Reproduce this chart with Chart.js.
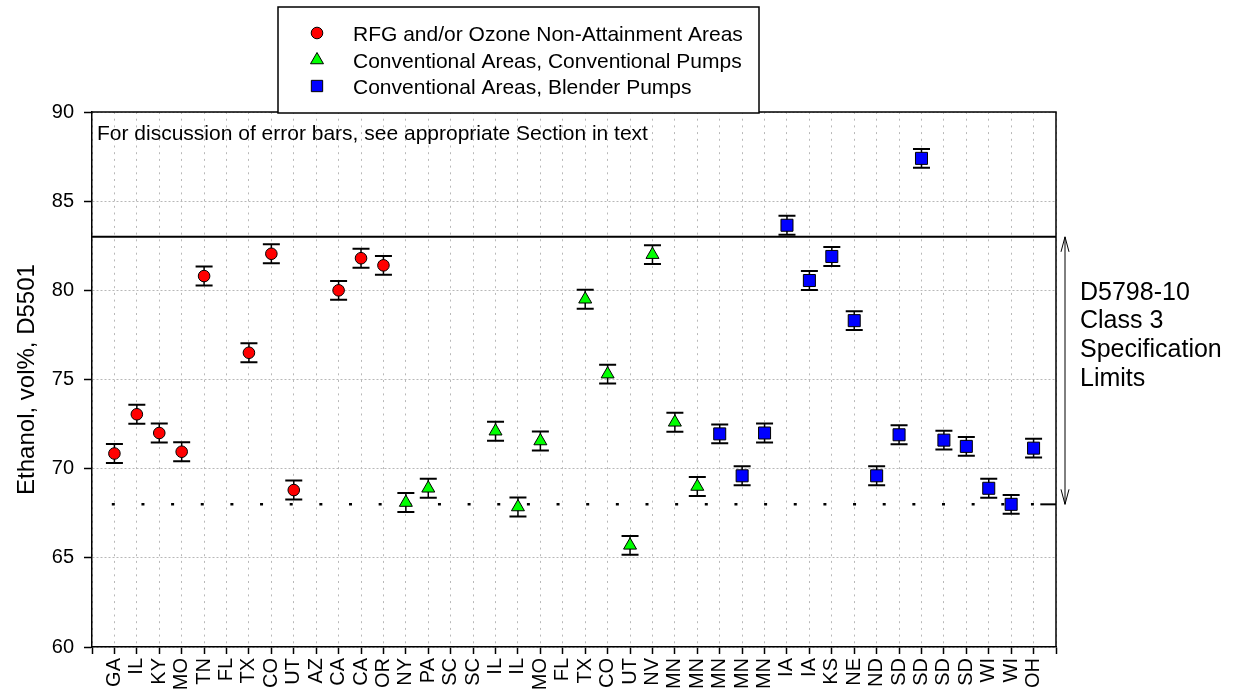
<!DOCTYPE html>
<html><head><meta charset="utf-8">
<script src="https://cdn.jsdelivr.net/npm/chart.js@4.4.0/dist/chart.umd.min.js"></script>
<style>html,body{margin:0;padding:0;background:#fff;}canvas{display:block}</style>
</head><body>
<canvas id="c" width="1234" height="698"></canvas>
<script>
const categories = ['GA','IL','KY','MO','TN','FL','TX','CO','UT','AZ','CA','CA','OR','NY','PA','SC','SC','IL','IL','MO','FL','TX','CO','UT','NV','MN','MN','MN','MN','MN','IA','IA','KS','NE','ND','SD','SD','SD','SD','WI','WI','OH'];
const rfgValues = [70.85,73.05,72.0,70.95,80.8,null,76.5,82.05,68.8,null,80.0,81.8,81.4,
  null,null,null,null,null,null,null,null,null,null,null,null,null,null,null,null,null,null,null,null,null,null,null,null,null,null,null,null,null];
const convValues = [null,null,null,null,null,null,null,null,null,null,null,null,null,
  68.1,68.9,null,null,72.1,67.85,71.55,null,79.5,75.3,65.7,82.0,72.6,69.0,
  null,null,null,null,null,null,null,null,null,null,null,null,null,null,null];
const blenderValues = [null,null,null,null,null,null,null,null,null,null,null,null,null,null,null,null,null,null,null,null,null,null,null,null,null,null,null,
  71.95,69.6,72.0,83.65,80.55,81.9,78.3,69.6,71.9,87.4,71.6,71.25,68.9,68.0,71.15];
const errorHalf = 0.53;
const specMax = 83;
const specMin = 68;
const yTicks = [60,65,70,75,80,85,90];
const seriesNames = ['RFG and/or Ozone Non-Attainment Areas','Conventional Areas, Conventional Pumps','Conventional Areas, Blender Pumps'];
const noteText = 'For discussion of error bars, see appropriate Section in text';
const specLabel = ['D5798-10','Class 3','Specification','Limits'];
const yTitle = 'Ethanol, vol%, D5501';

const FONT = '"Liberation Sans", Arial, sans-serif';
const toPts = arr => arr.map((v,i)=> v==null?null:{x:i+1,y:v}).filter(p=>p);

function drawMarker(ctx, style, x, y, r, fill){
  ctx.save();
  ctx.fillStyle = fill; ctx.strokeStyle = '#000'; ctx.lineWidth = 1;
  ctx.beginPath();
  if (style==='circle'){ ctx.arc(x,y,r,0,Math.PI*2); }
  else if (style==='triangle'){
    ctx.moveTo(x, y-r);
    ctx.lineTo(x + Math.sin(2*Math.PI/3)*r, y - Math.cos(2*Math.PI/3)*r);
    ctx.lineTo(x + Math.sin(4*Math.PI/3)*r, y - Math.cos(4*Math.PI/3)*r);
    ctx.closePath();
  } else { const s = Math.SQRT1_2*r; ctx.rect(x-s,y-s,2*s,2*s); }
  ctx.fill(); ctx.stroke(); ctx.restore();
}

const overlay = {
  id:'overlay',
  beforeDatasetsDraw(chart){
    const {ctx, chartArea:a, scales:{x,y}} = chart;
    ctx.save();
    ctx.strokeStyle = '#000';
    const yMx = y.getPixelForValue(specMax);
    ctx.lineWidth = 2;
    ctx.beginPath(); ctx.moveTo(a.left,yMx); ctx.lineTo(a.right,yMx); ctx.stroke();
    const yMn = y.getPixelForValue(specMin);
    ctx.lineWidth = 2.5; ctx.setLineDash([3,26.65]); ctx.lineDashOffset = 9.85;
    ctx.beginPath(); ctx.moveTo(a.left,yMn); ctx.lineTo(x.getPixelForValue(42.2),yMn); ctx.stroke();
    ctx.setLineDash([]); ctx.lineWidth = 2;
    ctx.beginPath(); ctx.moveTo(x.getPixelForValue(42.3),yMn); ctx.lineTo(a.right,yMn); ctx.stroke();
    [rfgValues,convValues,blenderValues].forEach(arr=>arr.forEach((v,i)=>{
      if (v==null) return;
      const px = x.getPixelForValue(i+1);
      const t = y.getPixelForValue(v+errorHalf), b = y.getPixelForValue(v-errorHalf);
      ctx.lineWidth = 1.5;
      ctx.beginPath(); ctx.moveTo(px,t); ctx.lineTo(px,b); ctx.stroke();
      ctx.lineWidth = 2;
      ctx.beginPath(); ctx.moveTo(px-8.5,t); ctx.lineTo(px+8.5,t); ctx.moveTo(px-8.5,b); ctx.lineTo(px+8.5,b); ctx.stroke();
    }));
    ctx.restore();
  },
  afterDraw(chart){
    const {ctx, chartArea:a, scales:{y}} = chart;
    ctx.save();
    ctx.strokeStyle='#000'; ctx.lineWidth=1.5;
    ctx.beginPath(); ctx.moveTo(a.left,a.top); ctx.lineTo(a.right,a.top); ctx.lineTo(a.right,a.bottom); ctx.stroke();
    // note
    ctx.fillStyle='#000'; ctx.font='21px '+FONT; ctx.textAlign='left'; ctx.textBaseline='alphabetic';
    ctx.fillText(noteText, a.left+5, a.top+28);
    // legend
    ctx.fillStyle='#fff'; ctx.fillRect(278,7,481,106);
    ctx.lineWidth=1.5; ctx.strokeStyle='#000'; ctx.strokeRect(278,7,481,106);
    const ds = chart.data.datasets;
    const ly = [33,60,86];
    for (let k=0;k<3;k++){
      drawMarker(ctx, ds[k].pointStyle, 317, ly[k], k===0?5.8:(k===1?7.5:8), ds[k].backgroundColor);
      ctx.fillStyle='#000'; ctx.font='21px '+FONT; ctx.textAlign='left'; ctx.textBaseline='alphabetic';
      ctx.fillText(seriesNames[k], 353, ly[k]+7.5);
    }
    // spec arrow
    const ax = a.right+9, yT = y.getPixelForValue(specMax), yB = y.getPixelForValue(specMin);
    ctx.lineWidth=1; ctx.strokeStyle='#000';
    ctx.beginPath(); ctx.moveTo(ax,yT); ctx.lineTo(ax,yB);
    ctx.moveTo(ax-4,yT+15); ctx.lineTo(ax,yT); ctx.lineTo(ax+4,yT+15);
    ctx.moveTo(ax-4,yB-15); ctx.lineTo(ax,yB); ctx.lineTo(ax+4,yB-15);
    ctx.stroke();
    ctx.font='25px '+FONT; ctx.fillStyle='#000';
    specLabel.forEach((s,i)=> ctx.fillText(s, a.right+24, 299.5 + i*28.7));
    // y title
    ctx.save();
    ctx.translate(27,(a.top+a.bottom)/2); ctx.rotate(-Math.PI/2);
    ctx.font='24px '+FONT; ctx.textAlign='center'; ctx.textBaseline='middle';
    ctx.fillText(yTitle,0,0);
    ctx.restore();
    ctx.restore();
  }
};

new Chart(document.getElementById('c'), {
  type:'scatter',
  data:{datasets:[
    {label:seriesNames[0], data:toPts(rfgValues), pointStyle:'circle', pointRadius:5.8, backgroundColor:'#ff0000', borderColor:'#000', borderWidth:1},
    {label:seriesNames[1], data:toPts(convValues), pointStyle:'triangle', pointRadius:7.5, backgroundColor:'#00ff00', borderColor:'#000', borderWidth:1},
    {label:seriesNames[2], data:toPts(blenderValues), pointStyle:'rect', pointRadius:8.5, backgroundColor:'#0000ff', borderColor:'#000', borderWidth:1}
  ]},
  options:{
    responsive:false, animation:false, devicePixelRatio:1,
    layout:{padding:{left:0,top:112,right:178,bottom:0}},
    plugins:{legend:{display:false}, tooltip:{enabled:false}},
    scales:{
      x:{type:'linear', min:0, max:categories.length+1,
        afterFit(s){s.height=51;},
        afterBuildTicks(s){ s.ticks = Array.from({length:categories.length+2},(_,i)=>({value:i})); },
        ticks:{stepSize:1, autoSkip:false, maxRotation:90, minRotation:90, padding:4, color:'#000',
          font:{family:FONT,size:20}, callback:v=>categories[v-1]||''},
        grid:{color:'#b8b8b8', lineWidth:1, tickColor:'#000', tickLength:7, tickWidth:1.5},
        border:{color:'#000', width:1.5, dash:[2,4.7]}
      },
      y:{min:60, max:90,
        afterFit(s){s.width=92;},
        afterBuildTicks(s){ s.ticks = yTicks.map(v=>({value:v})); },
        ticks:{padding:10, color:'#000', font:{family:FONT,size:20}},
        grid:{color:'#b8b8b8', lineWidth:1, tickColor:'#000', tickLength:8, tickWidth:1.5},
        border:{color:'#000', width:1.5, dash:[2,2]}
      }
    }
  },
  plugins:[overlay]
});
</script>
</body></html>
